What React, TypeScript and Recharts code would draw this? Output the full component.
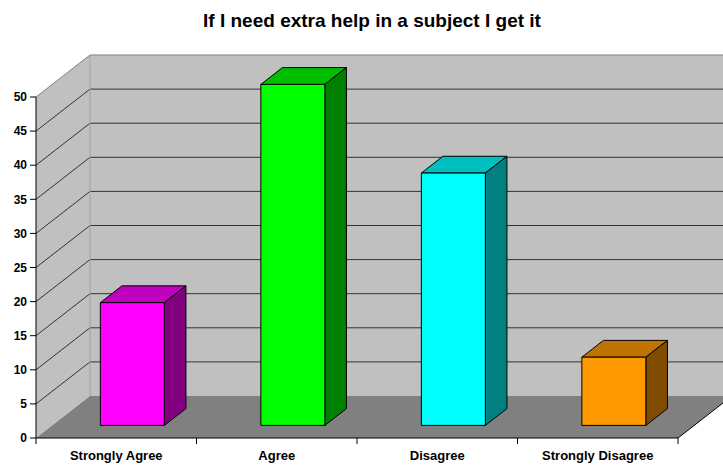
import React from 'react';
import { BarChart, Bar, XAxis, YAxis } from 'recharts';

// ---- data ----
const categories = ['Strongly Agree', 'Agree', 'Disagree', 'Strongly Disagree'];
const responses = [18, 50, 37, 10];
const yTicks = [0, 5, 10, 15, 20, 25, 30, 35, 40, 45, 50];
const frontColors = ['#FF00FF', '#00FF00', '#00FFFF', '#FF9900'];
const topColors = ['#BF00BF', '#00BF00', '#00BFBF', '#BF7300'];
const sideColors = ['#800080', '#008000', '#008080', '#804C00'];
const TITLE = 'If I need extra help in a subject I get it';

const data = categories.map((name, i) => ({ name, value: responses[i] }));

// ---- layout ----
const W = 723;
const H = 468;
const MARGIN = { top: 97, right: 45, bottom: 0, left: 0 };
const Y_AXIS_W = 36;
const X_AXIS_H = 30;
const Y_MAX = 50;
const PLOT_L = MARGIN.left + Y_AXIS_W;
const PLOT_R = W - MARGIN.right;
const PLOT_T = MARGIN.top;
const PLOT_B = H - MARGIN.bottom - X_AXIS_H;
const DEPTH_X = 54;
const DEPTH_Y = 42;
const BAR_FRONT = 0.3;
const BAR_DEPTH = 0.4;
const FONT = '"Liberation Sans", Arial, Helvetica, sans-serif';

const yPix = (v: number) => PLOT_B - (v / Y_MAX) * (PLOT_B - PLOT_T);

const Backdrop = () => {
  const bx = PLOT_L + DEPTH_X;
  const top = yPix(Y_MAX);
  const bottom = yPix(0);
  const grid = yTicks.filter((v) => v > 0 && v < Y_MAX);
  return (
    <g>
      <polygon
        points={`${PLOT_L},${top} ${bx},${top - DEPTH_Y} ${bx},${bottom - DEPTH_Y} ${PLOT_L},${bottom}`}
        fill="#C0C0C0"
      />
      <rect x={bx} y={top - DEPTH_Y} width={W - bx + 20} height={bottom - top} fill="#C0C0C0" />
      <polygon
        points={`${PLOT_L},${bottom} ${bx},${bottom - DEPTH_Y} ${PLOT_R + DEPTH_X},${bottom - DEPTH_Y} ${PLOT_R},${bottom}`}
        fill="#808080"
      />
      {grid.map((v) => {
        const y = yPix(v);
        return (
          <g key={v}>
            <line x1={PLOT_L} y1={y} x2={bx} y2={y - DEPTH_Y} stroke="#333" strokeWidth={1} />
            <line x1={bx} y1={y - DEPTH_Y} x2={W + 20} y2={y - DEPTH_Y} stroke="#333" strokeWidth={1} />
          </g>
        );
      })}
      <polyline
        points={`${PLOT_L},${top} ${bx},${top - DEPTH_Y} ${W + 20},${top - DEPTH_Y}`}
        fill="none"
        stroke="#808080"
        strokeWidth={1}
      />
      <line x1={bx} y1={top - DEPTH_Y} x2={bx} y2={bottom - DEPTH_Y} stroke="#A0A0A0" strokeWidth={1} />
    </g>
  );
};

const Overlay = () => {
  const n = categories.length;
  const step = (PLOT_R - PLOT_L) / n;
  const ticks = Array.from({ length: n + 1 }, (_, i) => PLOT_L + i * step);
  return (
    <g>
      <line x1={PLOT_L} y1={PLOT_B} x2={PLOT_R} y2={PLOT_B} stroke="#000" strokeWidth={1} />
      <line x1={PLOT_R} y1={PLOT_B} x2={PLOT_R + DEPTH_X} y2={PLOT_B - DEPTH_Y} stroke="#000" strokeWidth={1} />
      {ticks.map((x, i) => (
        <line key={i} x1={x} y1={PLOT_B} x2={x} y2={PLOT_B + 6} stroke="#000" strokeWidth={1} />
      ))}
      <text x={372} y={27} textAnchor="middle" fontFamily={FONT} fontWeight="bold" fontSize={19} fill="#000">
        {TITLE}
      </text>
    </g>
  );
};

const Box3D = (props: any) => {
  const { x, y, width, height, index } = props;
  if (width == null || height == null) return null;
  const fx = x + DEPTH_X * BAR_FRONT;
  const fy = y - DEPTH_Y * BAR_FRONT;
  const dx = DEPTH_X * BAR_DEPTH;
  const dy = -DEPTH_Y * BAR_DEPTH;
  return (
    <g stroke="#000" strokeWidth={1} strokeLinejoin="round">
      <polygon
        points={`${fx},${fy} ${fx + dx},${fy + dy} ${fx + width + dx},${fy + dy} ${fx + width},${fy}`}
        fill={topColors[index]}
      />
      <polygon
        points={`${fx + width},${fy} ${fx + width + dx},${fy + dy} ${fx + width + dx},${fy + height + dy} ${fx + width},${fy + height}`}
        fill={sideColors[index]}
      />
      <rect x={fx} y={fy} width={width} height={height} fill={frontColors[index]} />
    </g>
  );
};

const XTick = (props: any) => {
  const { x, payload } = props;
  return (
    <text x={x} y={PLOT_B + 22} textAnchor="middle" fontFamily={FONT} fontWeight="bold" fontSize={13} fill="#000">
      {payload.value}
    </text>
  );
};

export default function App() {
  return (
    <div style={{ position: 'absolute', left: 0, top: 0, width: W, height: H, background: '#fff' }}>
      <BarChart width={W} height={H} data={data} margin={MARGIN} barCategoryGap="30%">
        <Backdrop />
        <XAxis dataKey="name" height={X_AXIS_H} axisLine={false} tickLine={false} tick={<XTick />} interval={0} />
        <YAxis
          width={Y_AXIS_W}
          domain={[0, Y_MAX]}
          ticks={yTicks}
          interval={0}
          tickSize={6}
          tickMargin={3}
          axisLine={{ stroke: '#000' }}
          tickLine={{ stroke: '#000' }}
          tick={{ fontFamily: FONT, fontWeight: 'bold', fontSize: 12, fill: '#000' }}
        />
        <Bar dataKey="value" isAnimationActive={false} shape={<Box3D />} />
        <Overlay />
      </BarChart>
    </div>
  );
}
